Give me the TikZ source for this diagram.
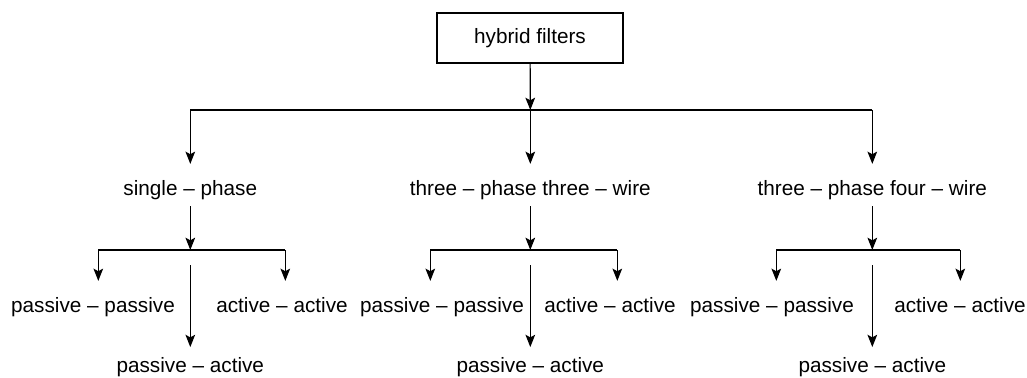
\documentclass[tikz,border=0pt]{standalone}
\usepackage{fontspec}
\setmainfont{Liberation Sans}
\usetikzlibrary{arrows.meta}

\begin{document}
\begin{tikzpicture}[x=0.02cm, y=-0.02cm, line width=0.7pt,
    font=\fontsize{11.8}{14}\selectfont,
    box/.style={draw, minimum width=3.72cm, minimum height=1cm, inner sep=0pt},
    lbl/.style={inner xsep=0pt, inner ysep=3pt, text height=9pt, text depth=3pt},
    arr/.style={-{Stealth[length=7pt, width=5.5pt, inset=1.5pt]}},
    into/.style={arr, shorten >=5.5pt}]
      \useasboundingbox (0,0) rectangle (1027,378);

      \node[box] (hf) at (530, 38) {hybrid filters};

      % first level
      \node[lbl] (sp)  at (190.3, 190) {single -- phase};
      \node[lbl] (t3w) at (530.3, 190) {three -- phase three -- wire};
      \node[lbl] (t4w) at (872.3, 190) {three -- phase four -- wire};

      \coordinate (b0)  at (530.3, 110);
      \coordinate (b0l) at (190.3, 110);
      \coordinate (b0r) at (872.3, 110);
      \draw[arr] (hf) -- (b0);
      \draw (b0l) -- (b0r);
      \draw[into] (b0l) -- (sp);
      \draw[into] (b0) -- (t3w);
      \draw[into] (b0r) -- (t4w);

      % second level: single phase
      \node[lbl] (pp1) at (93, 307)  {passive -- passive};
      \node[lbl] (aa1) at (282, 307) {active -- active};
      \node[lbl] (pa1) at (190.3, 367) {passive -- active};
      \coordinate (b1)  at (190.3, 250);
      \coordinate (b1l) at (98.3, 250);
      \coordinate (b1r) at (285.3, 250);
      \coordinate (m1)  at (190.3, 265);
      \draw[arr] (sp) -- (b1);
      \draw (b1l) -- (b1r);
      \draw[into] (b1l) -- (b1l |- pp1.north);
      \draw[into] (b1r) -- (b1r |- aa1.north);
      \draw[arr, shorten >=2pt] (m1) -- (pa1);

      % second level: three phase three wire
      \node[lbl] (pp2) at (442, 307) {passive -- passive};
      \node[lbl] (aa2) at (610, 307) {active -- active};
      \node[lbl] (pa2) at (530.3, 367) {passive -- active};
      \coordinate (b2)  at (530.3, 250);
      \coordinate (b2l) at (430.3, 250);
      \coordinate (b2r) at (617.3, 250);
      \coordinate (m2)  at (530.3, 265);
      \draw[arr] (t3w) -- (b2);
      \draw (b2l) -- (b2r);
      \draw[into] (b2l) -- (b2l |- pp2.north);
      \draw[into] (b2r) -- (b2r |- aa2.north);
      \draw[arr, shorten >=2pt] (m2) -- (pa2);

      % second level: three phase four wire
      \node[lbl] (pp3) at (772, 307) {passive -- passive};
      \node[lbl] (aa3) at (960, 307) {active -- active};
      \node[lbl] (pa3) at (872.3, 367) {passive -- active};
      \coordinate (b3)  at (872.3, 250);
      \coordinate (b3l) at (776.3, 250);
      \coordinate (b3r) at (960.3, 250);
      \coordinate (m3)  at (872.3, 265);
      \draw[arr] (t4w) -- (b3);
      \draw (b3l) -- (b3r);
      \draw[into] (b3l) -- (b3l |- pp3.north);
      \draw[into] (b3r) -- (b3r |- aa3.north);
      \draw[arr, shorten >=2pt] (m3) -- (pa3);
    \end{tikzpicture}
\end{document}
